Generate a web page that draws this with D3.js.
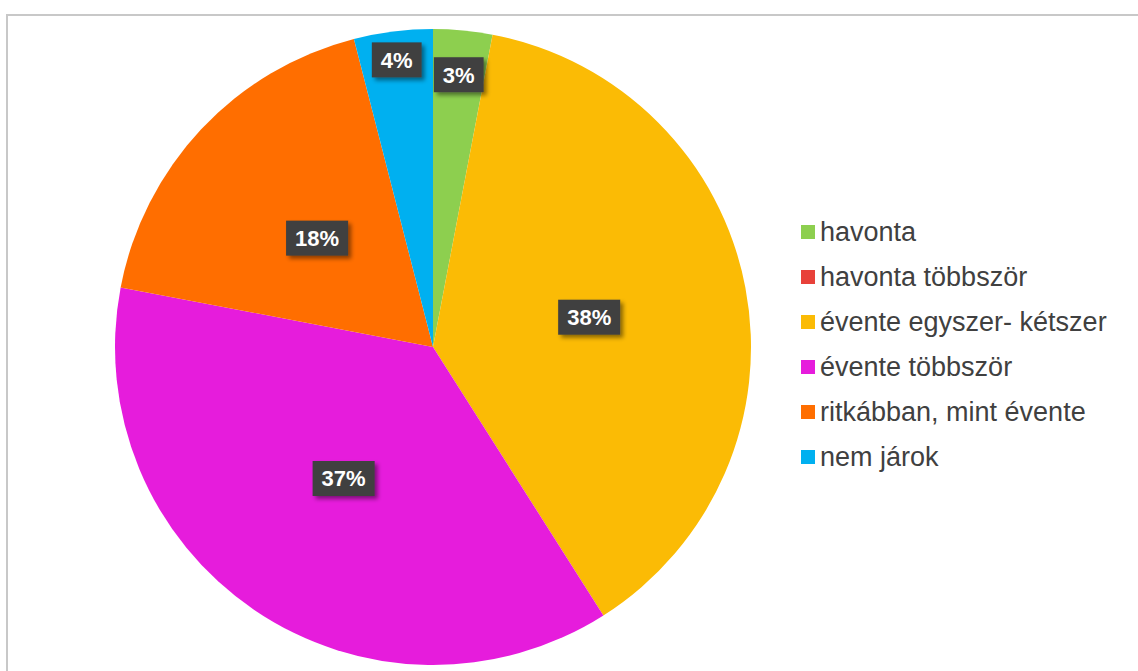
<!DOCTYPE html>
<html>
<head>
<meta charset="utf-8">
<script src="https://cdn.jsdelivr.net/npm/d3@7"></script>
<style>
  html, body { margin: 0; padding: 0; background: #ffffff; }
  svg { display: block; }
</style>
</head>
<body>
<svg id="chart" width="1138" height="671"></svg>
<script>
// Survey answers: how often the respondent goes (share of respondents, %)
const categories = [
  "havonta",
  "havonta többször",
  "évente egyszer- kétszer",
  "évente többször",
  "ritkábban, mint évente",
  "nem járok"
];
const values = [3, 0, 38, 37, 18, 4];
const colors = ["#8dcf4f", "#e8413a", "#fbbb05", "#e61cdc", "#ff6e00", "#00b0f0"];

const W = 1138, H = 671;
const svg = d3.select("#chart");

// frame
svg.append("path")
  .attr("d", `M7,${H} L7,15 L${W},15`)
  .attr("fill", "none")
  .attr("stroke", "#c8c8c8")
  .attr("stroke-width", 2);

const defs = svg.append("defs");
const shadow = defs.append("filter").attr("id", "lblShadow")
  .attr("x", "-30%").attr("y", "-30%").attr("width", "160%").attr("height", "160%");
shadow.append("feDropShadow")
  .attr("dx", 3).attr("dy", 3).attr("stdDeviation", 2)
  .attr("flood-color", "#000").attr("flood-opacity", 0.45);

const cx = 433, cy = 347, R = 318;
const data = categories.map((c, i) => ({ name: c, value: values[i], color: colors[i] }));

const pie = d3.pie().value(d => d.value).sort(null);
const arcs = pie(data);
const arc = d3.arc().innerRadius(0).outerRadius(R);

const g = svg.append("g").attr("transform", `translate(${cx},${cy})`);
g.selectAll("path.slice")
  .data(arcs.filter(a => a.data.value > 0))
  .join("path")
  .attr("class", "slice")
  .attr("d", arc)
  .attr("fill", d => d.data.color);

// data labels: big slices centred at half radius, narrow ones pushed towards the rim
const total = d3.sum(values);
const fmt = v => Math.round(v / total * 100) + "%";
const labelPos = d => {
  const frac = d.data.value / total;
  const r = frac < 0.05 ? R * (0.86 + (frac - 0.03) * 5) : R * 0.5;
  return d3.arc().innerRadius(r).outerRadius(r).centroid(d);
};

const lbl = g.selectAll("g.lbl")
  .data(arcs.filter(a => a.data.value > 0))
  .join("g")
  .attr("class", "lbl")
  .attr("transform", d => `translate(${labelPos(d)})`);

lbl.each(function(d) {
  const sel = d3.select(this);
  const txt = sel.append("text")
    .attr("text-anchor", "middle")
    .attr("dy", "0.36em")
    .attr("font-family", "Arial, 'Liberation Sans', sans-serif")
    .attr("font-weight", "bold")
    .attr("font-size", 22)
    .attr("fill", "#ffffff")
    .text(fmt(d.data.value));
  const bb = txt.node().getBBox();
  const padX = 9, h = 35;
  sel.insert("rect", "text")
    .attr("x", -bb.width / 2 - padX)
    .attr("y", -h / 2)
    .attr("width", bb.width + 2 * padX)
    .attr("height", h)
    .attr("fill", "#3f3f3f")
    .attr("filter", "url(#lblShadow)");
});

// legend
const legend = svg.append("g").attr("transform", "translate(801,232)");
const rowH = 45;
const items = legend.selectAll("g.item")
  .data(data)
  .join("g")
  .attr("class", "item")
  .attr("transform", (d, i) => `translate(0,${i * rowH})`);
items.append("rect")
  .attr("x", 0).attr("y", -7)
  .attr("width", 14).attr("height", 14)
  .attr("fill", d => d.color);
items.append("text")
  .attr("x", 19)
  .attr("dy", "0.35em")
  .attr("font-family", "Arial, 'Liberation Sans', sans-serif")
  .attr("font-size", 27)
  .attr("fill", "#404040")
  .text(d => d.name);
</script>
</body>
</html>
